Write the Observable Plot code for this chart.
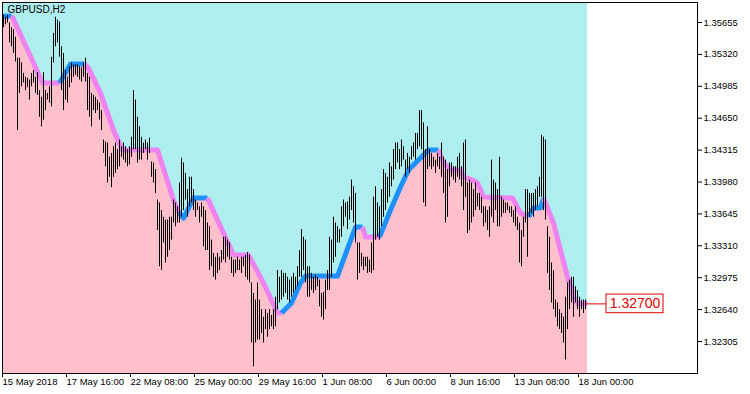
<!DOCTYPE html>
<html><head><meta charset="utf-8">
<script src="https://cdn.jsdelivr.net/npm/d3@7"></script>
<script src="https://cdn.jsdelivr.net/npm/@observablehq/plot@0.6"></script>
<style>
html,body{margin:0;padding:0;background:#fff;}
#chart{width:750px;height:394px;}
</style></head><body><div id="chart"></div>
<script>
const symbolTitle = "GBPUSD,H2";
const highs = [1.3573,1.3571,1.3573,1.3565,1.3560,1.3558,1.3550,1.3528,1.3528,1.3523,
1.3512,1.3508,1.3507,1.3505,1.3512,1.3515,1.3508,1.3513,1.3494,1.3487,
1.3513,1.3494,1.3491,1.3498,1.3529,1.3554,1.3571,1.3568,1.3566,1.3540,
1.3533,1.3515,1.3508,1.3519,1.3523,1.3521,1.3521,1.3521,1.3519,1.3518,
1.3523,1.3528,1.3512,1.3508,1.3491,1.3489,1.3487,1.3484,1.3481,1.3473,
1.3442,1.3440,1.3439,1.3424,1.3428,1.3435,1.3439,1.3432,1.3442,1.3435,
1.3439,1.3435,1.3432,1.3435,1.3445,1.3494,1.3484,1.3466,1.3456,1.3445,
1.3439,1.3442,1.3439,1.3444,1.3419,1.3418,1.3411,1.3379,1.3376,1.3368,
1.3361,1.3358,1.3358,1.3361,1.3361,1.3379,1.3376,1.3372,1.3397,1.3423,
1.3418,1.3407,1.3390,1.3403,1.3403,1.3390,1.3379,1.3376,1.3372,1.3376,
1.3372,1.3368,1.3355,1.3351,1.3337,1.3323,1.3319,1.3323,1.3319,1.3326,
1.3340,1.3340,1.3337,1.3334,1.3319,1.3316,1.3316,1.3319,1.3316,1.3319,
1.3319,1.3321,1.3324,1.3321,1.3292,1.3281,1.3274,1.3292,1.3274,1.3264,
1.3256,1.3264,1.3260,1.3264,1.3258,1.3264,1.3277,1.3305,1.3298,1.3305,
1.3302,1.3302,1.3298,1.3295,1.3298,1.3302,1.3298,1.3309,1.3326,1.3348,
1.3340,1.3337,1.3309,1.3309,1.3302,1.3298,1.3300,1.3298,1.3295,1.3281,
1.3282,1.3295,1.3305,1.3340,1.3337,1.3361,1.3355,1.3351,1.3348,1.3372,
1.3379,1.3376,1.3377,1.3382,1.3400,1.3393,1.3386,1.3334,1.3334,1.3323,
1.3319,1.3319,1.3319,1.3316,1.3334,1.3382,1.3393,1.3376,1.3372,1.3390,
1.3411,1.3407,1.3403,1.3418,1.3414,1.3432,1.3439,1.3439,1.3432,1.3442,
1.3435,1.3421,1.3428,1.3424,1.3435,1.3439,1.3449,1.3449,1.3473,1.3473,
1.3460,1.3432,1.3456,1.3432,1.3428,1.3424,1.3421,1.3428,1.3424,1.3439,
1.3424,1.3421,1.3411,1.3418,1.3418,1.3414,1.3414,1.3424,1.3428,1.3414,
1.3439,1.3442,1.3397,1.3400,1.3397,1.3390,1.3397,1.3386,1.3386,1.3382,
1.3372,1.3372,1.3368,1.3372,1.3421,1.3400,1.3397,1.3390,1.3424,1.3382,
1.3379,1.3376,1.3376,1.3372,1.3372,1.3368,1.3372,1.3361,1.3355,1.3347,
1.3361,1.3390,1.3390,1.3386,1.3386,1.3386,1.3390,1.3393,1.3403,1.3447,
1.3445,1.3442,1.3351,1.3340,1.3313,1.3305,1.3274,1.3271,1.3264,1.3260,
1.3256,1.3277,1.3292,1.3295,1.3298,1.3298,1.3288,1.3284,1.3277,1.3274,
1.3274,1.3274];
const lows = [1.3560,1.3563,1.3565,1.3544,1.3540,1.3533,1.3524,1.3452,1.3491,1.3498,
1.3502,1.3494,1.3497,1.3484,1.3498,1.3502,1.3491,1.3489,1.3466,1.3456,
1.3463,1.3473,1.3484,1.3481,1.3477,1.3523,1.3540,1.3544,1.3529,1.3494,
1.3473,1.3484,1.3481,1.3497,1.3502,1.3508,1.3510,1.3508,1.3505,1.3503,
1.3508,1.3503,1.3473,1.3466,1.3456,1.3473,1.3470,1.3473,1.3463,1.3452,
1.3428,1.3414,1.3397,1.3403,1.3392,1.3403,1.3407,1.3411,1.3414,1.3424,
1.3421,1.3418,1.3414,1.3416,1.3424,1.3432,1.3432,1.3418,1.3421,1.3421,
1.3428,1.3432,1.3421,1.3428,1.3403,1.3397,1.3386,1.3347,1.3309,1.3305,
1.3334,1.3313,1.3319,1.3326,1.3337,1.3355,1.3351,1.3355,1.3355,1.3361,
1.3368,1.3379,1.3361,1.3372,1.3376,1.3368,1.3361,1.3368,1.3355,1.3361,
1.3330,1.3326,1.3326,1.3305,1.3309,1.3298,1.3295,1.3302,1.3305,1.3313,
1.3316,1.3313,1.3319,1.3316,1.3302,1.3298,1.3302,1.3305,1.3305,1.3302,
1.3309,1.3298,1.3295,1.3292,1.3229,1.3204,1.3229,1.3232,1.3232,1.3239,
1.3229,1.3243,1.3235,1.3243,1.3246,1.3243,1.3246,1.3264,1.3271,1.3274,
1.3277,1.3281,1.3274,1.3271,1.3277,1.3281,1.3284,1.3288,1.3298,1.3298,
1.3305,1.3292,1.3277,1.3277,1.3284,1.3281,1.3284,1.3288,1.3267,1.3256,
1.3253,1.3264,1.3284,1.3284,1.3298,1.3313,1.3319,1.3334,1.3334,1.3340,
1.3351,1.3361,1.3348,1.3358,1.3368,1.3355,1.3334,1.3295,1.3302,1.3309,
1.3305,1.3309,1.3302,1.3303,1.3302,1.3305,1.3337,1.3340,1.3337,1.3351,
1.3361,1.3368,1.3376,1.3382,1.3393,1.3400,1.3411,1.3418,1.3411,1.3414,
1.3421,1.3403,1.3411,1.3407,1.3421,1.3424,1.3421,1.3432,1.3435,1.3432,
1.3376,1.3372,1.3411,1.3414,1.3411,1.3414,1.3407,1.3414,1.3411,1.3403,
1.3386,1.3355,1.3361,1.3393,1.3403,1.3400,1.3397,1.3403,1.3400,1.3393,
1.3368,1.3382,1.3344,1.3347,1.3355,1.3361,1.3368,1.3372,1.3368,1.3365,
1.3351,1.3355,1.3347,1.3340,1.3361,1.3355,1.3368,1.3351,1.3351,1.3361,
1.3365,1.3365,1.3368,1.3365,1.3361,1.3355,1.3351,1.3347,1.3313,1.3309,
1.3340,1.3355,1.3319,1.3361,1.3365,1.3361,1.3368,1.3372,1.3382,1.3382,
1.3368,1.3358,1.3302,1.3284,1.3271,1.3264,1.3256,1.3246,1.3243,1.3239,
1.3229,1.3211,1.3243,1.3264,1.3271,1.3256,1.3271,1.3264,1.3256,1.3264,
1.3260,1.3264];
const lastPrice = 1.32700;

// trailing step line vertices (bar index, price, trend)
const lineIdx = [-0.5,4, 4,4.5,15,17,19.5,28, 28,33.5,40.5, 40.5,42.5,48.5,55,59.5,77,85,87.5,
  87.5,90,95,102, 102,115,122.5,130,137,139, 139,144,148.5,151,167,176,179.5,
  179.5,181,188, 188,193.5,198.5,202.5,207.5,212.5,217.5,
  217.5,220,223.5,228.5,230,234.5,237,240,254.5,258.5,262.5,
  262.5,265,268.5,270, 270,275,278.5,282,285,287,292];
const linePrice = [1.35722,1.35722, 1.35722,1.35711,1.35229,1.35134,1.35019,1.35019,
  1.35019,1.35218,1.35218, 1.35218,1.35176,1.34914,1.34525,1.34315,1.34315,1.33790,1.33664,
  1.33664,1.33601,1.33811,1.33811, 1.33811,1.33213,1.33213,1.32919,1.32604,1.32604,
  1.32604,1.32709,1.32919,1.32992,1.32992,1.33507,1.33507,
  1.33507,1.33402,1.33402, 1.33402,1.33685,1.33927,1.34105,1.34210,1.34315,1.34315,
  1.34315,1.34179,1.34105,1.34105,1.34032,1.34000,1.33969,1.33822,1.33811,1.33654,1.33612,
  1.33612,1.33706,1.33706,1.33811, 1.33811,1.33549,1.33265,1.32982,1.32772,1.32705,1.32705];
const lineTrend = ["up","up", "down","down","down","down","down","down", "up","up","up",
  "down","down","down","down","down","down","down","down", "up","up","up","up",
  "down","down","down","down","down","down", "up","up","up","up","up","up","up",
  "down","down","down", "up","up","up","up","up","up","up",
  "down","down","down","down","down","down","down","down","down","down","down",
  "up","up","up","up", "down","down","down","down","down","down","down"];

const xTickIdx = [0,32,64,96,128,160,192,224,256,288];
const xTickLabels = ["15 May 2018","17 May 16:00","22 May 08:00","25 May 00:00","29 May 16:00",
  "1 Jun 08:00","6 Jun 00:00","8 Jun 16:00","13 Jun 08:00","18 Jun 00:00"];
const yTicks = [1.35655,1.35320,1.34985,1.34650,1.34315,1.33980,1.33645,1.33310,1.32975,1.32640,1.32305];

const yDomain = [1.31969, 1.35865];
const xDomain = [-0.5, 347];

const bars = highs.map((h, i) => ({i, high: h, low: lows[i]}));
let seg = 0;
const lineData = lineIdx.map((x, k) => {
  if (k > 0 && lineTrend[k] !== lineTrend[k-1]) seg++;
  return {i: x, p: linePrice[k], trend: lineTrend[k], seg};
});
const lastIdx = bars.length - 1;
const trendColor = t => t === "up" ? "#1e90ff" : "#ee82ee";

const chart = Plot.plot({
  width: 750, height: 394,
  marginLeft: 2, marginRight: 53, marginTop: 2, marginBottom: 21,
  style: {fontFamily: "'Liberation Sans', Arial, sans-serif", fontSize: "9.5px", background: "#fff", color: "#000"},
  x: {domain: xDomain, axis: null},
  y: {domain: yDomain, axis: null},
  color: {type: "identity"},
  marks: [
    Plot.areaY(lineData, {x: "i", y1: "p", y2: () => yDomain[1], fill: "#afeeee", curve: "linear"}),
    Plot.areaY(lineData, {x: "i", y1: () => yDomain[0], y2: "p", fill: "#ffc0cb", curve: "linear"}),
    Plot.line(lineData, {x: "i", y: "p", z: "seg", stroke: d => trendColor(d.trend), strokeWidth: 5, strokeLinejoin: "round", strokeLinecap: "butt", curve: "linear"}),
    Plot.ruleX(bars, {x: "i", y1: "low", y2: "high", stroke: "#000", strokeWidth: 1}),
    Plot.text([symbolTitle], {frameAnchor: "top-left", dx: 5, dy: 3, lineAnchor: "top", textAnchor: "start", fontSize: 10, fill: "#000"}),
    Plot.ruleY([lastPrice], {x1: lastIdx + 0.5, x2: lastIdx + 10.5, stroke: "#e00000", strokeWidth: 1}),
    Plot.rect([lastPrice], {x1: lastIdx + 10.5, x2: lastIdx + 39, y1: d => d - 0.00098, y2: d => d + 0.00098, fill: "#fff", stroke: "#e00000", strokeWidth: 1}),
    Plot.text([lastPrice], {x: lastIdx + 24.75, y: d => d, text: d => d.toFixed(5), fill: "#e00000", fontSize: 14, textAnchor: "middle"}),
    Plot.frame({stroke: "#000"}),
    Plot.axisY(yTicks, {anchor: "right", tickSize: 4, tickPadding: 2, tickFormat: d => d.toFixed(5), label: null}),
    Plot.axisX(xTickIdx, {anchor: "bottom", tickSize: 4, tickPadding: 1, dx: -1, textAnchor: "start", tickFormat: d => xTickLabels[xTickIdx.indexOf(d)], label: null})
  ]
});
document.getElementById("chart").appendChild(chart);
</script>
</body></html>
